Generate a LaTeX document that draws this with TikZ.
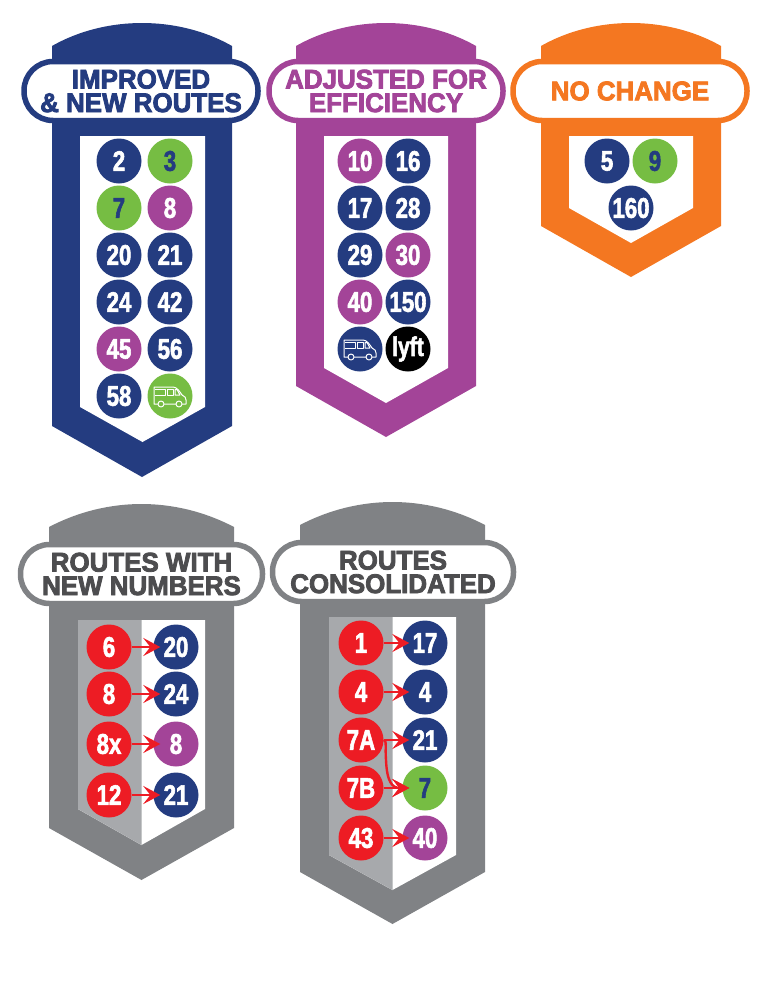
\documentclass[tikz,border=0pt]{standalone}
\usepackage{fontspec}
\usetikzlibrary{arrows.meta}
\setmainfont{Liberation Sans}
\newfontfamily\titlefont[BoldFeatures={FakeStretch=0.96,FakeBold=3}]{Liberation Sans}
\newfontfamily\numfont[BoldFeatures={FakeStretch=0.78,FakeBold=2}]{Liberation Sans}
\definecolor{navy}{HTML}{243C80}
\definecolor{leaf}{HTML}{76BD43}
\definecolor{plum}{HTML}{A34498}
\definecolor{tang}{HTML}{F47721}
\definecolor{slate}{HTML}{808285}
\definecolor{ash}{HTML}{A7A9AC}
\definecolor{ruby}{HTML}{ED1C24}
\definecolor{ink}{HTML}{4D4D4F}
\tikzset{
  route/.style={circle, minimum size=45, inner sep=0, text=white,
    font=\numfont\bfseries\fontsize{28.5}{28.5}\selectfont},
  navyroute/.style={route, fill=navy},
  leafroute/.style={route, fill=leaf, text=navy},
  plumroute/.style={route, fill=plum},
  rubyroute/.style={route, fill=ruby},
  pill/.style={draw=#1, text=#1, fill=white, line width=5.5, rounded corners=29,
    align=center, inner sep=0, minimum width=234, minimum height=59,
    font=\titlefont\bfseries\fontsize{27}{23.5}\selectfont},
  routearrow/.style={ruby, line width=2.4pt, shorten >=-7pt,
    -{Stealth[length=17pt, width=18pt, inset=7pt]}},
  vanline/.style={white, line width=1, line join=round}
}
\newcommand{\vanicon}[2]{
  \begin{scope}[shift={(#1)}]
    \draw[vanline] (-16,-9) -- (3,-9) .. controls (7,-9) and (10,-4) .. (12,-1)
      .. controls (15,0) and (16,2) .. (16,4) -- (16,8) -- (-16,8) -- cycle;
    \draw[vanline] (-15,-6.5) -- (-5,-6.5) -- (-5,-1) -- (-15,-1);
    \draw[vanline] (-3,-6.5) -- (3,-6.5) -- (3,-1) -- (-3,-1) -- cycle;
    \draw[vanline] (5,-6.5) -- (7,-6.5) -- (10,-1) -- (5,-1) -- cycle;
    \draw[vanline, fill=#2] (-9,8) circle (3);
    \draw[vanline, fill=#2] (9,8) circle (3);
  \end{scope}
}
\begin{document}
\begin{tikzpicture}[x=1pt, y=-1pt]
  \useasboundingbox (0,0) rectangle (768,996);
  % sign bodies
  \foreach \c/\xc/\hw/\yt/\ys/\ytip in {navy/142/90/23/426/477, plum/386/90/23/386/437,
      tang/631/90/23/226/277, slate/141.5/92.5/504/828/880, slate/392.5/92.5/502/872/924}{
    \fill[\c, shift={(\xc,0)}] (-\hw,\yt+23) .. controls (-62,\yt+7) and (-30,\yt) .. (0,\yt)
      .. controls (30,\yt) and (62,\yt+7) .. (\hw,\yt+23)
      -- (\hw,\ys) -- (0,\ytip) -- (-\hw,\ys) -- cycle;
  }
  % white panels
  \foreach \xc/\hw/\yt/\ys/\ytip in {142.5/62.5/136/407/442, 386/62/136/368/403,
      631/62/136/208/243, 141.5/63.5/620/809/845, 392.5/63.5/617/855/890}{
    \fill[white] (\xc-\hw,\yt) -- (\xc+\hw,\yt) -- (\xc+\hw,\ys) -- (\xc,\ytip)
      -- (\xc-\hw,\ys) -- cycle;
  }
  % grey halves
  \fill[ash] (78,620) -- (141.5,620) -- (141.5,845) -- (78,809) -- cycle;
  \fill[ash] (329,617) -- (392.5,617) -- (392.5,890) -- (329,855) -- cycle;
  % headings
  \node[pill=navy] (headA) at (141,91) {IMPROVED\\\& NEW ROUTES};
  \node[pill=plum] (headB) at (386,91) {ADJUSTED FOR\\EFFICIENCY};
  \node[pill=tang] (headC) at (630,91) {NO CHANGE};
  \node[pill=slate, text=ink, minimum width=242] (headD) at (141.5,574) {ROUTES WITH\\NEW NUMBERS};
  \node[pill=slate, text=ink, minimum width=241] (headE) at (393,572) {ROUTES\\CONSOLIDATED};
  % route circles
  \foreach \n/\x/\y/\s/\t in {a2/119/161/navyroute/2, a3/170/161/leafroute/3,
      a7/119/208/leafroute/7, a8/170/208/plumroute/8,
      a20/119/255/navyroute/20, a21/170/255/navyroute/21,
      a24/119/302/navyroute/24, a42/170/302/navyroute/42,
      a45/119/349/plumroute/45, a56/170/349/navyroute/56,
      a58/119/396/navyroute/58, avan/170/396/leafroute/{},
      b10/360/161/plumroute/10, b16/408/161/navyroute/16,
      b17/360/208/navyroute/17, b28/408/208/navyroute/28,
      b29/360/255/navyroute/29, b30/408/255/plumroute/30,
      b40/360/302/plumroute/40, b150/408/302/navyroute/150,
      bvan/360/349/navyroute/{},
      c5/607/161/navyroute/5, c9/655/161/leafroute/9, c160/631/208/navyroute/160,
      d6/109/647/rubyroute/6, d20/176/647/navyroute/20,
      d8/109/694/rubyroute/8, d24/176/694/navyroute/24,
      d8x/109/744/rubyroute/8x, d8n/176/744/plumroute/8,
      d12/109/795/rubyroute/12, d21/176/795/navyroute/21,
      e1/361/643/rubyroute/1, e17/425/643/navyroute/17,
      e4/361/692/rubyroute/4, e4n/425/692/navyroute/4,
      e7A/361/740/rubyroute/7A, e21/425/740/navyroute/21,
      e7B/361/788/rubyroute/7B, e7/425/788/leafroute/7,
      e43/361/838/rubyroute/43, e40/425/838/plumroute/40}{
    \node[\s] (\n) at (\x,\y) {\t};
  }
  \node[route, fill=black, font=\numfont\bfseries\fontsize{27}{27}\selectfont] (blyft) at (408,349) {lyft};
  \vanicon{avan}{leaf}
  \vanicon{bvan}{navy}
  % arrows
  \foreach \p/\q in {d6/d20, d8/d24, d8x/d8n, d12/d21, e1/e17, e4/e4n, e7A/e21, e7B/e7, e43/e40}{
    \draw[routearrow] (\p) -- (\q);
  }
  \coordinate (bendA) at (386,760);
  \draw[routearrow] (e7A.east) .. controls (387,740) and (385,748) .. (bendA)
    .. controls (387,782) and (392,788) .. (e7.west);
\end{tikzpicture}
\end{document}
